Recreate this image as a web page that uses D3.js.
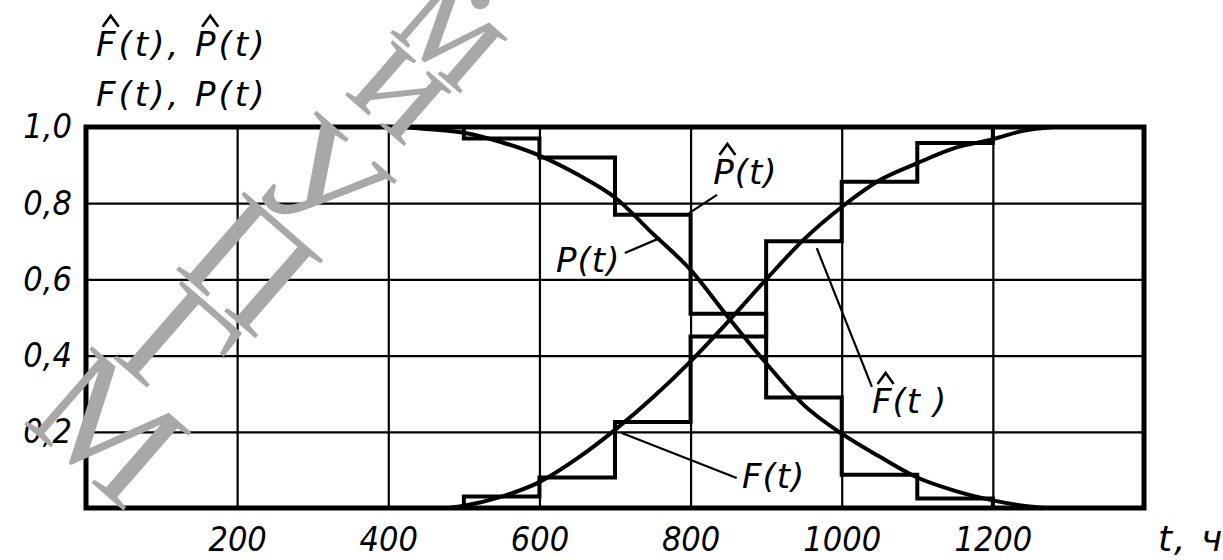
<!DOCTYPE html>
<html lang="ru">
<head>
<meta charset="UTF-8">
<title>F(t), P(t)</title>
<script src="https://d3js.org/d3.v7.min.js"></script>
<style>
  body { margin: 0; background: #fff; }
</style>
</head>
<body>
<script>
var width = 1223, height = 560;

// axis ticks
var tTicks = [200, 400, 600, 800, 1000, 1200];
var tTickLabels = ["200", "400", "600", "800", "1000", "1200"];
var vTicks = [0.2, 0.4, 0.6, 0.8, 1.0];
var vTickLabels = ["0,2", "0,4", "0,6", "0,8", "1,0"];

// smooth curves P(t) and F(t)
var pCurveT = [420, 450, 500, 550, 600, 650, 700, 750, 800, 850, 900, 950, 1000, 1050, 1100, 1150, 1200, 1240, 1270];
var pCurveV = [1.0, 0.995, 0.985, 0.96, 0.925, 0.876, 0.815, 0.72, 0.625, 0.5, 0.38, 0.27, 0.195, 0.135, 0.08, 0.045, 0.02, 0.006, 0];
var fCurveT = [480, 500, 550, 600, 650, 700, 750, 800, 850, 900, 950, 1000, 1050, 1100, 1150, 1200, 1240, 1280];
var fCurveV = [0, 0.006, 0.03, 0.068, 0.13, 0.205, 0.29, 0.385, 0.49, 0.6, 0.705, 0.79, 0.86, 0.905, 0.945, 0.968, 0.99, 1.0];

// step estimates P^(t), F^(t) per 100 h interval
var stepT = [500, 600, 700, 800, 900, 1000, 1100, 1200];
var stepP = [0.97, 0.92, 0.77, 0.51, 0.29, 0.087, 0.025];
var stepF = [0.03, 0.08, 0.226, 0.45, 0.70, 0.856, 0.958];

// watermark letters (scan stamp)
var wmGlyphs = ["М", "Г", "П", "У", "и", "м", "."];

var svg = d3.select("body").append("svg")
    .attr("width", width)
    .attr("height", height);

var x = d3.scaleLinear().domain([0, 1400]).range([86, 1144]);
var y = d3.scaleLinear().domain([0, 1]).range([508, 127]);

// grid + tick labels
svg.append("g")
    .attr("transform", "translate(0," + y(0) + ")")
    .call(d3.axisBottom(x).tickValues(tTicks)
        .tickFormat(function (d, i) { return tTickLabels[i]; })
        .tickSize(-(y(0) - y(1))).tickPadding(19));
svg.append("g")
    .attr("transform", "translate(" + x(0) + ",0)")
    .call(d3.axisLeft(y).tickValues(vTicks)
        .tickFormat(function (d, i) { return vTickLabels[i]; })
        .tickSize(-(x(1400) - x(0))).tickPadding(14));
svg.selectAll(".domain").remove();
svg.selectAll(".tick line").attr("stroke", "#000").attr("stroke-width", 2.2);
svg.selectAll(".tick text")
    .style("font-family", "'DejaVu Sans Condensed', 'DejaVu Sans', sans-serif")
    .style("font-style", "italic")
    .style("font-size", "34px")
    .style("fill", "#000");

// frame
svg.append("rect")
    .attr("x", x(0)).attr("y", y(1))
    .attr("width", x(1400) - x(0)).attr("height", y(0) - y(1))
    .attr("fill", "none").attr("stroke", "#000").attr("stroke-width", 5);

var line = d3.line()
    .x(function (d) { return x(d[0]); })
    .y(function (d) { return y(d[1]); });

// smooth curves
svg.append("path")
    .attr("d", line.curve(d3.curveMonotoneX)(d3.zip(pCurveT, pCurveV)))
    .attr("fill", "none").attr("stroke", "#000").attr("stroke-width", 4);
svg.append("path")
    .attr("d", line.curve(d3.curveMonotoneX)(d3.zip(fCurveT, fCurveV)))
    .attr("fill", "none").attr("stroke", "#000").attr("stroke-width", 4);

// step functions
function steps(vals, start, end) {
    var pts = [[stepT[0] - 40, start]];
    vals.forEach(function (v, i) { pts.push([stepT[i], v]); });
    pts.push([stepT[stepT.length - 1], end]);
    pts.push([stepT[stepT.length - 1] + 40, end]);
    return pts;
}
svg.append("path")
    .attr("d", line.curve(d3.curveStepAfter)(steps(stepP, 1, 0)))
    .attr("fill", "none").attr("stroke", "#000").attr("stroke-width", 4);
svg.append("path")
    .attr("d", line.curve(d3.curveStepAfter)(steps(stepF, 0, 1)))
    .attr("fill", "none").attr("stroke", "#000").attr("stroke-width", 4);

// labels, hats drawn above chosen letters
function label(px, py, str, hats, size, spacing) {
    var t = svg.append("text")
        .attr("x", px).attr("y", py)
        .style("font-family", "'DejaVu Sans', sans-serif")
        .style("font-size", size + "px")
        .style("font-style", "italic")
        .style("letter-spacing", (spacing || 0) + "px")
        .style("fill", "#000")
        .text(str);
    hats.forEach(function (i) {
        var r = t.node().getExtentOfChar(i);
        var cx = r.x + r.width * 0.5 + size * 0.1;
        var base = py - size * 0.86;
        svg.append("path")
            .attr("d", "M" + (cx - 8) + "," + base + "L" + cx + "," + (base - 11) + "L" + (cx + 8) + "," + base)
            .attr("fill", "none").attr("stroke", "#000").attr("stroke-width", 2.6);
    });
    return t;
}

label(96, 56, "F(t), P(t)", [0, 6], 34, 3);
label(96, 106, "F(t), P(t)", [], 34, 3);
label(1158, 551, "t, ч", [], 36, 2);

// annotations: [label t, label v, text, hat, leader from t, v, to t, v]
var notes = [
    [830, 0.85, "P(t)", true, 835, 0.822, 798, 0.774],
    [622, 0.62, "P(t)", false, 713, 0.669, 760, 0.709],
    [1040, 0.249, "F(t )", true, 1040, 0.318, 967, 0.682],
    [868, 0.052, "F(t)", false, 861, 0.079, 709, 0.197]
];
notes.forEach(function (n) {
    label(x(n[0]), y(n[1]), n[2], n[3] ? [0] : [], 34, 1);
    svg.append("line")
        .attr("x1", x(n[4])).attr("y1", y(n[5]))
        .attr("x2", x(n[6])).attr("y2", y(n[7]))
        .attr("stroke", "#000").attr("stroke-width", 2.2);
});

// watermark: letters stacked along a tilted axis
var wmSize = 158, tilt = 41;
var up = [Math.sin(tilt * Math.PI / 180), -Math.cos(tilt * Math.PI / 180)];
var along = -wmSize * 0.33;
var wm = svg.append("g");
wmGlyphs.forEach(function (g, i) {
    var lower = g === g.toLowerCase() && g !== ".";
    var h = g === "." ? 0.1 : (lower ? 0.46 : 0.66);
    if (i > 0 && lower && wmGlyphs[i - 1] === "У") along += 26;
    var bx = 108 + up[0] * along, by = 428 + up[1] * along;
    wm.append("text")
        .attr("transform", "translate(" + bx + "," + by + ") rotate(" + tilt + ")")
        .attr("text-anchor", "middle")
        .style("font-family", "'Liberation Serif', serif")
        .style("font-size", wmSize + "px")
        .style("fill", "#a8a8a8")
        .text(g);
    along += wmSize * h + 4;
});
</script>
</body>
</html>
